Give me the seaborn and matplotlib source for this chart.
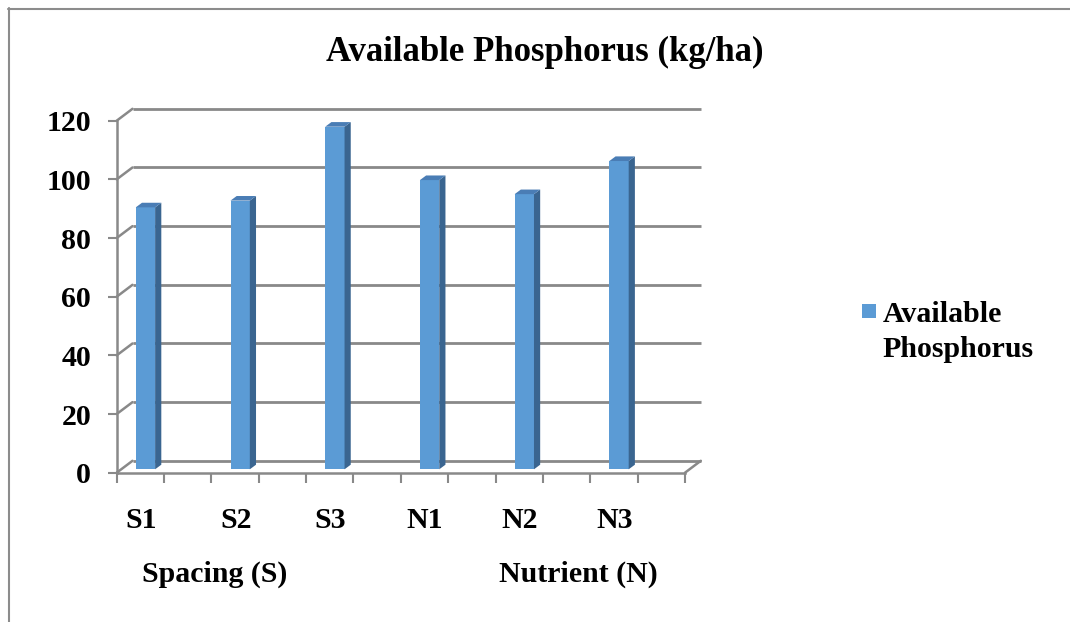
import numpy as np
import pandas as pd
import seaborn as sns
import matplotlib
matplotlib.use("Agg")
import matplotlib.pyplot as plt
from matplotlib.patches import Polygon, Patch, Rectangle
from matplotlib.lines import Line2D
from matplotlib.transforms import Affine2D
from matplotlib.legend_handler import HandlerPatch

# ---- data ----
categories = ["S1", "S2", "S3", "N1", "N2", "N3"]
values = [89.3, 91.6, 116.8, 98.6, 93.8, 105.1]
group_labels = ["Spacing (S)", "Nutrient (N)"]
y_ticks = [0, 20, 40, 60, 80, 100, 120]
title = "Available Phosphorus (kg/ha)"
series_name = "Available\nPhosphorus"

sns.set_style("white")
plt.rcParams["font.family"] = ["Liberation Serif", "DejaVu Serif"]
plt.rcParams["font.weight"] = "bold"
plt.rcParams["text.color"] = "black"
plt.rcParams["xtick.labelcolor"] = "black"
plt.rcParams["ytick.labelcolor"] = "black"

W, H = 1070, 622
fig = plt.figure(figsize=(W / 100, H / 100), dpi=100)
fig.patch.set_facecolor("white")

x0px, x1px = 116.7, 685.0
y0px, y1px = 472.7, 120.7
ax = fig.add_axes([x0px / W, (H - y0px) / H, (x1px - x0px) / W, (y0px - y1px) / H])
ax.set_facecolor("none")

XL = (-0.256, 5.744)
YL = (0, 120)

pxx = (x1px - x0px) / (XL[1] - XL[0])   # px per x unit
pxy = (y0px - y1px) / (YL[1] - YL[0])   # px per y unit

# depth vectors (data units)
DX, DY = 15.8 / pxx, 11.9 / pxy          # full depth (back wall)
FX, FY = 4.5 / pxx, 3.4 / pxy            # bar front-face offset
BX, BY = 6.2 / pxx, 4.6 / pxy            # bar depth

grid_c = "#898989"
front_c = "#5B9BD5"
side_c = "#3A6590"
top_c = "#4A7DB5"

df = pd.DataFrame({"cat": categories, "val": values})
sns.barplot(data=df, x="cat", y="val", order=categories, width=0.204,
            color=front_c, saturation=1, ax=ax, zorder=3, edgecolor="none")
ax.set_xlim(*XL)
ax.set_ylim(*YL)

# back wall gridlines and left wall stubs
for v in y_ticks:
    ax.plot([XL[0] + DX, XL[1] + DX], [v + DY, v + DY], color=grid_c, lw=2.0,
            clip_on=False, zorder=1, solid_capstyle="butt")
    ax.plot([XL[0], XL[0] + DX], [v, v + DY], color=grid_c, lw=1.8,
            clip_on=False, zorder=1)
# floor right edge
ax.plot([XL[1], XL[1] + DX], [0, DY], color=grid_c, lw=1.8, clip_on=False, zorder=1)

for p in list(ax.patches):
    bx, bw, bh = p.get_x(), p.get_width(), p.get_height()
    tr = Affine2D().translate(FX, FY) + ax.transData
    p.set_transform(tr)
    p.set_clip_on(False)
    side = Polygon([(bx + bw, 0), (bx + bw + BX, BY), (bx + bw + BX, bh + BY), (bx + bw, bh)],
                   closed=True, facecolor=side_c, edgecolor="none", transform=tr,
                   clip_on=False, zorder=3)
    top = Polygon([(bx, bh), (bx + BX, bh + BY), (bx + bw + BX, bh + BY), (bx + bw, bh)],
                  closed=True, facecolor=top_c, edgecolor="none", transform=tr,
                  clip_on=False, zorder=3)
    ax.add_patch(side)
    ax.add_patch(top)
ax.set_xlim(*XL)
ax.set_ylim(*YL)

# spines
for s in ["top", "right"]:
    ax.spines[s].set_visible(False)
for s in ["left", "bottom"]:
    ax.spines[s].set_color(grid_c)
    ax.spines[s].set_linewidth(1.8)
    ax.spines[s].set_zorder(4)

ax.set_xlabel("")
ax.set_ylabel("")
ax.set_yticks(y_ticks)
ax.set_yticklabels([str(v) for v in y_ticks], fontsize=21.5, fontweight="bold")
ax.tick_params(axis="y", left=True, direction="out", length=6.5, width=1.5, color=grid_c, pad=12)

ax.set_xticks(np.arange(len(categories)))
ax.set_xticklabels(categories, fontsize=21.5, fontweight="bold")
ax.set_xticks(XL[0] + 0.5 * np.arange(13), minor=True)
ax.tick_params(axis="x", which="major", bottom=True, length=0, pad=25)
ax.tick_params(axis="x", which="minor", bottom=True, direction="out", length=7, width=1.5,
               color=grid_c)

# group labels
fig.text(214.5 / W, 1 - 574 / H, group_labels[0], ha="center", va="center",
         fontsize=21.5, fontweight="bold")
fig.text(578 / W, 1 - 574 / H, group_labels[1], ha="center", va="center",
         fontsize=21.5, fontweight="bold")

# title
fig.text(545 / W, 1 - 52 / H, title, ha="center", va="center", fontsize=25, fontweight="bold")

# legend
class TopHandler(HandlerPatch):
    def create_artists(self, legend, orig_handle, xdescent, ydescent, width, height, fontsize, trans):
        s = 14 * 72 / 100
        r = Rectangle((0, height - s + 22 * 72 / 100), s, s, facecolor=front_c, edgecolor="none",
                      transform=trans)
        return [r]

h = Patch(facecolor=front_c, edgecolor="none", label=series_name)
leg = fig.legend(handles=[h], loc="upper left", bbox_to_anchor=(847 / W, 1 - 286 / H),
                 frameon=False, prop={"family": "Liberation Serif", "weight": "bold", "size": 21.5},
                 handlelength=0.5, handleheight=0.5, handletextpad=0.2, borderpad=0,
                 handler_map={Patch: TopHandler()})
for t in leg.get_texts():
    t.set_linespacing(1.4)

# outer border
fig.add_artist(Line2D([8.5 / W, 8.5 / W], [0, 1 - 8 / H], color="#8c8c8c", lw=1.5))
fig.add_artist(Line2D([8 / W, 1], [1 - 8.5 / H, 1 - 8.5 / H], color="#8c8c8c", lw=1.5))

fig.savefig("out.png", dpi=100, facecolor="white")
